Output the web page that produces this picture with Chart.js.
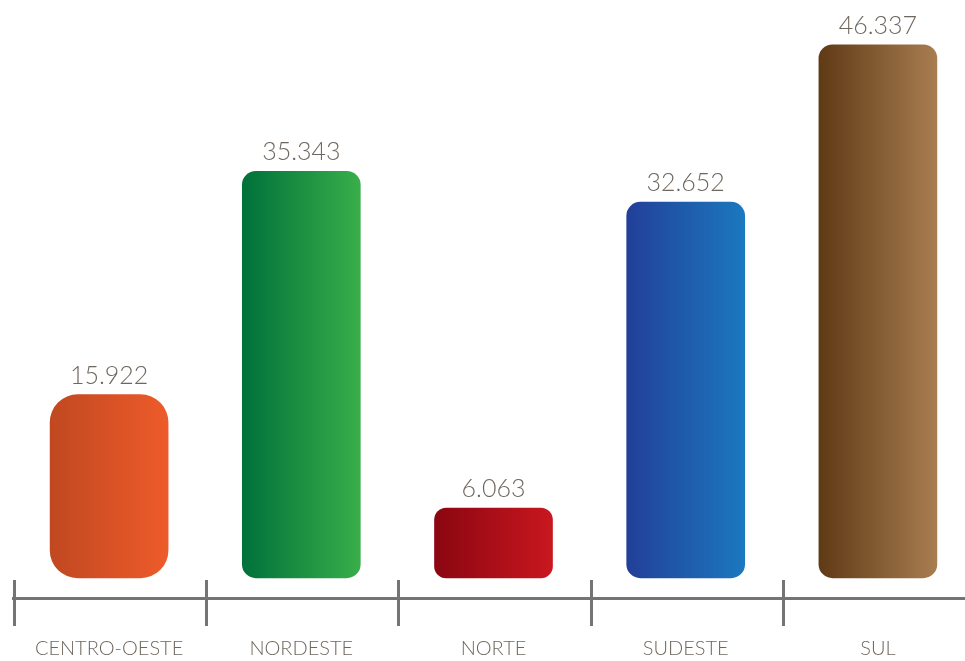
<!DOCTYPE html>
<html>
<head>
<meta charset="utf-8">
<script src="https://cdn.jsdelivr.net/npm/chart.js@4"></script>
<style>
  html, body { margin: 0; padding: 0; background: #ffffff; overflow: hidden; }
  #wrap { width: 974px; height: 661px; position: relative; }
</style>
</head>
<body>
<div id="wrap"><canvas id="c"></canvas></div>
<script>
const categories = ['CENTRO-OESTE', 'NORDESTE', 'NORTE', 'SUDESTE', 'SUL'];
const values = [15922, 35343, 6063, 32652, 46337];
const gradientLeft = ['#c04820', '#00713a', '#8a0611', '#223f98', '#5f3a16'];
const gradientRight = ['#ee5b2a', '#39ae4a', '#c9171f', '#1b78bf', '#a87d50'];
const cornerRadius = [28, 14, 12, 14, 14];

const AXIS_COLOR = '#747474';
const TEXT_COLOR = '#6f675e';
const FONT = 'Lato, "Open Sans", sans-serif';

function formatBR(v) {
  return String(v).replace(/\B(?=(\d{3})+(?!\d))/g, '.');
}

function barGradient(ctx) {
  const chart = ctx.chart;
  const i = ctx.dataIndex;
  const xs = chart.scales && chart.scales.x;
  if (!chart.chartArea || !xs || i === undefined) return gradientRight[i] || '#888';
  const cx = xs.getPixelForValue(i);
  const half = 59;
  const g = chart.ctx.createLinearGradient(cx - half, 0, cx + half, 0);
  g.addColorStop(0, gradientLeft[i]);
  g.addColorStop(1, gradientRight[i]);
  return g;
}

const decorPlugin = {
  id: 'decor',
  afterDraw(chart) {
    const ctx = chart.ctx;
    const xs = chart.scales.x;
    const area = chart.chartArea;
    const step = xs.getPixelForValue(1) - xs.getPixelForValue(0);
    ctx.save();
    ctx.strokeStyle = AXIS_COLOR;
    ctx.lineWidth = 3;
    for (let i = 0; i < categories.length; i++) {
      const x = Math.round(xs.getPixelForValue(i) - step / 2) + 1.5;
      ctx.beginPath();
      ctx.moveTo(x, area.bottom - 18);
      ctx.lineTo(x, area.bottom + 28);
      ctx.stroke();
    }
    const meta = chart.getDatasetMeta(0);
    ctx.fillStyle = TEXT_COLOR;
    ctx.font = '300 25px ' + FONT;
    ctx.textAlign = 'center';
    ctx.textBaseline = 'alphabetic';
    meta.data.forEach((bar, i) => {
      ctx.fillText(formatBR(values[i]), bar.x, bar.y - 11);
    });
    ctx.restore();
  }
};

new Chart(document.getElementById('c'), {
  type: 'bar',
  data: {
    labels: categories,
    datasets: [{
      data: values,
      backgroundColor: barGradient,
      borderRadius: cornerRadius,
      borderSkipped: false,
      barThickness: 118
    }]
  },
  options: {
    responsive: true,
    maintainAspectRatio: false,
    animation: false,
    layout: { padding: { left: 13, right: 0, top: 44, bottom: 0 } },
    plugins: { legend: { display: false }, tooltip: { enabled: false } },
    scales: {
      x: {
        grid: { display: false, drawTicks: false },
        border: { display: true, color: AXIS_COLOR, width: 3 },
        ticks: {
          color: TEXT_COLOR,
          padding: 39,
          maxRotation: 0,
          font: { family: FONT, size: 20, weight: '300' }
        },
        afterFit(scale) {
          scale.height = 63;
          scale.paddingLeft = 0;
          scale.paddingRight = 0;
        }
      },
      y: {
        display: false,
        min: -1750,
        max: 46400
      }
    }
  },
  plugins: [decorPlugin]
});
</script>
</body>
</html>
